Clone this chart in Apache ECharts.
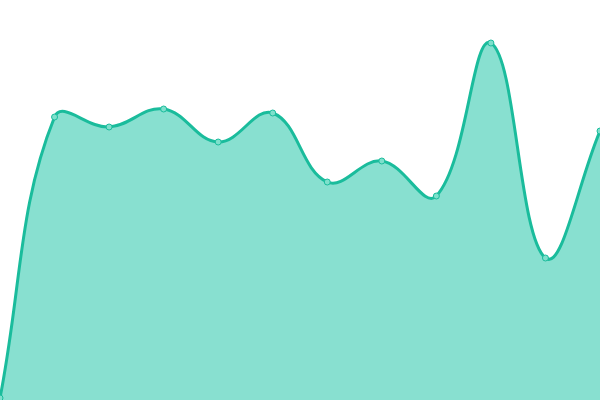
<!DOCTYPE html>
<html>
<head>
<meta charset="utf-8">
<script src="https://cdn.jsdelivr.net/npm/echarts@6/dist/echarts.min.js"></script>
<style>html,body{margin:0;padding:0;background:#fff}#main{width:600px;height:400px}</style>
</head>
<body>
<div id="main"></div>
<script>
// categories and values
var categories = ['1', '2', '3', '4', '5', '6', '7', '8', '9', '10', '11', '12'];
var values = [2, 283, 273, 291, 258, 287, 218, 239, 204, 357, 142, 269];

var lineColor = '#1abc9c';
var fillColor = '#88e0d0';

// spline with distance weighted control points (tension 0.4), like the reference curve
function curvePath(pts, t) {
	var cps = [];
	for (var i = 0; i < pts.length; i++) {
		var prev = pts[i > 0 ? i - 1 : i];
		var cur = pts[i];
		var next = pts[i < pts.length - 1 ? i + 1 : i];
		var d01 = Math.sqrt(Math.pow(cur[0] - prev[0], 2) + Math.pow(cur[1] - prev[1], 2));
		var d12 = Math.sqrt(Math.pow(next[0] - cur[0], 2) + Math.pow(next[1] - cur[1], 2));
		var s01 = d01 / (d01 + d12);
		var s12 = d12 / (d01 + d12);
		s01 = isNaN(s01) ? 0 : s01;
		s12 = isNaN(s12) ? 0 : s12;
		var fa = t * s01;
		var fb = t * s12;
		cps.push({
			prev: [cur[0] - fa * (next[0] - prev[0]), cur[1] - fa * (next[1] - prev[1])],
			next: [cur[0] + fb * (next[0] - prev[0]), cur[1] + fb * (next[1] - prev[1])]
		});
	}
	var d = 'M' + pts[0][0] + ',' + pts[0][1];
	for (var j = 0; j < pts.length - 1; j++) {
		var a = cps[j].next;
		var b = cps[j + 1].prev;
		d += ' C' + a[0] + ',' + a[1] + ' ' + b[0] + ',' + b[1] + ' ' + pts[j + 1][0] + ',' + pts[j + 1][1];
	}
	return d;
}

var mycharts = echarts.init(document.getElementById('main'));
var option = {
	animation: false,
	grid: { left: 0, right: 0, top: 0, bottom: 0 },
	xAxis: {
		type: 'category',
		boundaryGap: false,
		data: categories,
		show: false
	},
	yAxis: {
		type: 'value',
		min: 0,
		max: 400,
		show: false
	},
	series: [{
		type: 'custom',
		coordinateSystem: 'cartesian2d',
		data: values.map(function (v, i) { return [i, v]; }),
		z: 1,
		renderItem: function (params, api) {
			if (params.dataIndex !== 0) {
				return null;
			}
			var pts = values.map(function (v, i) { return api.coord([i, v]); });
			var base = api.coord([0, 0])[1];
			var line = curvePath(pts, 0.4);
			var area = line + ' L' + pts[pts.length - 1][0] + ',' + base + ' L' + pts[0][0] + ',' + base + ' Z';
			return {
				type: 'group',
				children: [{
					type: 'path',
					shape: { pathData: area },
					style: { fill: fillColor }
				}, {
					type: 'path',
					shape: { pathData: line },
					style: { fill: null, stroke: lineColor, lineWidth: 3 }
				}]
			};
		}
	}, {
		type: 'line',
		data: values,
		z: 3,
		symbol: 'circle',
		symbolSize: 6,
		lineStyle: { width: 0, opacity: 0 },
		itemStyle: { color: '#7ee0cc', borderColor: lineColor, borderWidth: 1 }
	}]
};
mycharts.setOption(option);
</script>
</body>
</html>
